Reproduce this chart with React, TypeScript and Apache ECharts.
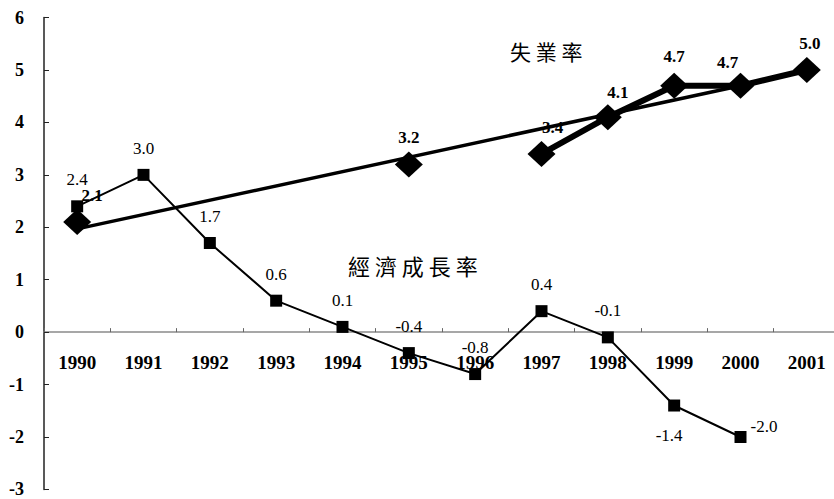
import React, { useEffect, useRef } from "react";
import * as echarts from "echarts";

const years = ["1990", "1991", "1992", "1993", "1994", "1995", "1996", "1997", "1998", "1999", "2000", "2001"];
const growthRate = [2.4, 3.0, 1.7, 0.6, 0.1, -0.4, -0.8, 0.4, -0.1, -1.4, -2.0, null];
const unemploymentRate = [2.1, null, null, null, null, 3.2, null, 3.4, 4.1, 4.7, 4.7, 5.0];
const unemploymentTrend = [1.97, null, null, null, null, null, null, null, null, null, 4.7, null];
const yTicks = { min: -3, max: 6, interval: 1 };
const unemploymentName = "失 業 率";
const growthName = "經 濟 成 長 率";

// label styling (offsets only, not data)
const unempLabelOffsets: [number, number][] = [
  [15, 0], [0, 0], [0, 0], [0, 0], [0, 0], [0, 0], [0, 0], [11, 0], [10, 2], [0, -3], [-13, 3], [3, 0],
];

const serif = "'Liberation Serif', 'Times New Roman', serif";

const GRID_TOP = 17.6;
const GRID_BOTTOM = 9.6;
const HEIGHT = 499;

export default function App() {
  const ref = useRef<HTMLDivElement>(null);

  useEffect(() => {
    if (!ref.current) return;
    const chart = echarts.init(ref.current, undefined, { renderer: "svg" });

    const plotH = HEIGHT - GRID_TOP - GRID_BOTTOM;
    const zeroFromBottom = (plotH * (0 - yTicks.min)) / (yTicks.max - yTicks.min);

    const growthData = growthRate.map((v, i) => {
      if (v === null) return null;
      if (years[i] === "1999") {
        return { value: v, label: { position: "bottom", distance: 15, offset: [-5, 0] } };
      }
      if (years[i] === "2000") {
        return { value: v, label: { position: "right", distance: 2, offset: [2, -10] } };
      }
      return v;
    });

    const unempData = unemploymentRate.map((v, i) =>
      v === null ? null : { value: v, label: { offset: unempLabelOffsets[i] } }
    );

    chart.setOption({
      animation: false,
      backgroundColor: "#ffffff",
      grid: { left: 44, right: -6, top: GRID_TOP, bottom: GRID_BOTTOM, outerBoundsMode: "none", containLabel: false },
      xAxis: {
        type: "category",
        data: years,
        offset: -zeroFromBottom,
        axisLine: { onZero: false, lineStyle: { color: "#8a8a8a", width: 1.5 } },
        axisTick: { show: true, inside: true, length: 4, lineStyle: { color: "#666", width: 1 } },
        axisLabel: {
          margin: 21,
          fontFamily: serif,
          fontWeight: "bold",
          fontSize: 19,
          color: "#000",
        },
        splitLine: { show: false },
      },
      yAxis: {
        type: "value",
        min: yTicks.min,
        max: yTicks.max,
        interval: yTicks.interval,
        axisLine: { show: true, lineStyle: { color: "#222", width: 1.5 } },
        axisTick: { show: true, inside: true, length: 5, lineStyle: { color: "#222" } },
        axisLabel: {
          margin: 20,
          fontFamily: serif,
          fontWeight: "bold",
          fontSize: 18,
          color: "#000",
        },
        splitLine: { show: false },
      },
      series: [
        {
          name: "經濟成長率",
          type: "line",
          data: growthData,
          symbol: "rect",
          symbolSize: 12,
          showAllSymbol: true,
          lineStyle: { color: "#000", width: 2 },
          itemStyle: { color: "#000" },
          label: {
            show: true,
            position: "top",
            distance: 12,
            fontFamily: serif,
            fontSize: 17,
            color: "#000",
            formatter: (p: any) => Number(p.value).toFixed(1),
          },
          z: 2,
        },
        {
          name: "trend",
          type: "line",
          data: unemploymentTrend,
          connectNulls: true,
          symbol: "none",
          lineStyle: { color: "#000", width: 3.5 },
          z: 3,
        },
        {
          name: "失業率",
          type: "line",
          data: unempData,
          symbol: "diamond",
          symbolSize: [28, 26],
          showAllSymbol: true,
          lineStyle: { color: "#000", width: 6 },
          itemStyle: { color: "#000" },
          label: {
            show: true,
            position: "top",
            distance: 5,
            fontFamily: serif,
            fontWeight: "bold",
            fontSize: 17,
            color: "#000",
            formatter: (p: any) => Number(p.value).toFixed(1),
          },
          z: 4,
        },
      ],
      graphic: [
        {
          type: "text",
          left: 510,
          top: 40,
          style: {
            text: unemploymentName,
            fontFamily: "'Noto Sans CJK TC', sans-serif",
            fontSize: 21,
            fill: "#000",
          },
        },
        {
          type: "text",
          left: 348,
          top: 254,
          style: {
            text: growthName,
            fontFamily: "'Noto Sans CJK TC', sans-serif",
            fontSize: 22,
            fill: "#000",
          },
        },
      ],
    });

    return () => chart.dispose();
  }, []);

  return (
    <div
      ref={ref}
      style={{ position: "fixed", left: 0, top: 0, width: 834, height: 499, background: "#fff" }}
    />
  );
}
